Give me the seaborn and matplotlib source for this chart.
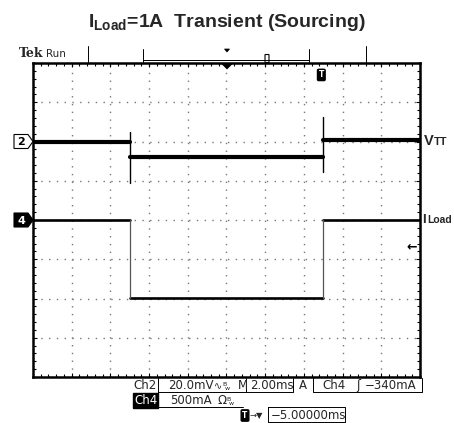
import numpy as np
import pandas as pd
import matplotlib
matplotlib.use('Agg')
import matplotlib.pyplot as plt
import matplotlib.transforms as mtransforms
from matplotlib.patches import Polygon, FancyBboxPatch
import seaborn as sns

# Scope settings
ms_per_div = 2.0        # horizontal, ms/div
ch2_mv_per_div = 20.0   # VTT, mV/div
ch4_a_per_div = 0.5     # ILoad, A/div
ch2_pos_div = 2.0       # ground marker of Ch2
ch4_pos_div = 0.0       # ground marker of Ch4
trig_level_a = -0.34
t_start, t_end = -15.0, 5.0

# Ch2 (VTT) - flat levels (ms, mV) and edge spikes
vtt_seg_start = [-15.0, -10.0, 0.0]
vtt_seg_end = [-10.0, 0.0, 5.0]
vtt_seg_mv = [0.0, -7.8, 0.6]
vtt_spike_t = [-10.0, 0.0]
vtt_spike_hi = [4.8, 12.4]
vtt_spike_lo = [-21.4, -15.6]

# Ch4 (ILoad) - flat levels (ms, A) and edges
iload_seg_start = [-15.0, -10.0, 0.0]
iload_seg_end = [-10.0, 0.0, 5.0]
iload_seg_a = [0.0, -0.99, 0.0]
iload_edge_t = [-10.0, 0.0]

sns.set_theme(style='white')
plt.rcParams['font.family'] = ['DejaVu Sans']
plt.rcParams['mathtext.fontset'] = 'custom'
plt.rcParams['mathtext.rm'] = 'Liberation Sans:bold'
plt.rcParams['mathtext.bf'] = 'Liberation Sans:bold'


def segments(starts, ends, vals, offset, per_div):
    rows = []
    for i, (a, b, v) in enumerate(zip(starts, ends, vals)):
        d = offset + v / per_div
        rows.append((i, a, d))
        rows.append((i, b, d))
    return pd.DataFrame(rows, columns=['seg', 't', 'div'])


def verticals(ts, lo, hi, offset, per_div):
    rows = []
    for i, (t, a, b) in enumerate(zip(ts, lo, hi)):
        rows.append((i, t, offset + a / per_div))
        rows.append((i, t, offset + b / per_div))
    return pd.DataFrame(rows, columns=['seg', 't', 'div'])


vtt_lv = segments(vtt_seg_start, vtt_seg_end, vtt_seg_mv, ch2_pos_div, ch2_mv_per_div)
vtt_sp = verticals(vtt_spike_t, vtt_spike_lo, vtt_spike_hi, ch2_pos_div, ch2_mv_per_div)
il_lv = segments(iload_seg_start, iload_seg_end, iload_seg_a, ch4_pos_div, ch4_a_per_div)
il_ed = verticals(iload_edge_t, [iload_seg_a[1]] * 2, [0.0] * 2, ch4_pos_div, ch4_a_per_div)

fig = plt.figure(figsize=(4.54, 4.23), dpi=100)
ax = fig.add_axes([33 / 454, 1 - 377 / 423, 387 / 454, 314 / 423])
ax.set_facecolor('white')

kw = dict(x='t', y='div', units='seg', estimator=None, sort=False, ax=ax, legend=False)
sns.lineplot(data=vtt_lv, lw=3.0, color='black', **kw)
sns.lineplot(data=vtt_sp, lw=1.0, color='black', **kw)
sns.lineplot(data=il_lv, lw=1.9, color='black', **kw)
sns.lineplot(data=il_ed, lw=0.9, color='#555555', **kw)

ax.set_xlim(t_start, t_end)
ax.set_ylim(-4, 4)
ax.set_xticks(np.arange(t_start, t_end + 0.01, ms_per_div))
ax.set_yticks(np.arange(-4, 4.01, 1))
ax.set_xticks(np.arange(t_start, t_end + 0.01, ms_per_div / 5), minor=True)
ax.set_yticks(np.arange(-4, 4.01, 0.2), minor=True)
ax.tick_params(which='both', direction='in', top=True, right=True, bottom=True, left=True,
               labelbottom=False, labelleft=False, color='black')
ax.tick_params(which='major', length=3, width=0.8)
ax.tick_params(which='minor', length=2.5, width=0.8)
ax.grid(True, which='major', color='#777777', lw=1.0, linestyle=(0, (1, 4.6)))
ax.set_xlabel('')
ax.set_ylabel('')
for s in ax.spines.values():
    s.set_linewidth(1.8)
    s.set_color('black')

# trigger level arrow and trigger position marker
yt = mtransforms.blended_transform_factory(ax.transAxes, ax.transData)
ax.text(0.993, ch4_pos_div + trig_level_a / ch4_a_per_div, '\u2190', transform=yt,
        ha='right', va='center', fontsize=9, fontweight='bold', color='black')
xt = mtransforms.blended_transform_factory(ax.transData, ax.transAxes)
ax.text(-0.1, 0.962, 'T', transform=xt, ha='center', va='center', fontsize=5.5,
        fontweight='bold', color='white',
        bbox=dict(boxstyle='round,pad=0.15', fc='black', ec='black'))

# overlay in pixel coordinates for scope screen annotations
ov = fig.add_axes([0, 0, 1, 1], zorder=5)
ov.set_xlim(0, 454)
ov.set_ylim(423, 0)
ov.axis('off')

ov.text(227, 27, r'$\mathbf{I_{Load}}$=1A  Transient (Sourcing)', ha='center', va='baseline',
        fontsize=14, fontweight='bold', family='Liberation Sans')

ov.text(19, 57, 'Tek', fontsize=9, fontweight='bold', family='DejaVu Serif', va='baseline')
ov.text(46, 57, 'Run', fontsize=7.5, va='baseline')
for x in (88, 366):
    ov.plot([x, x], [46, 62], color='black', lw=0.7)
ov.plot([143, 309], [60.5, 60.5], color='black', lw=0.7)
for x in (143, 309):
    ov.plot([x, x], [49, 62], color='black', lw=0.7)
ov.add_patch(Polygon([(224.5, 49), (229.5, 49), (227, 52)], closed=True, fc='black', ec='black', lw=0.5))
ov.add_patch(FancyBboxPatch((265.5, 55), 3, 7, boxstyle='round,pad=0.5', fc='white', ec='black', lw=0.8))
ov.add_patch(Polygon([(222, 64), (232, 64), (227, 69)], closed=True, fc='black', ec='black', lw=0.5))

# channel ground markers
for yy, lab, filled in ((141.5, '2', False), (220, '4', True)):
    ov.add_patch(Polygon([(14, yy - 7), (28, yy - 7), (33, yy), (28, yy + 7), (14, yy + 7)],
                         closed=True, fc='black' if filled else 'white', ec='black', lw=0.8))
    ov.text(21, yy + 0.5, lab, ha='center', va='center', fontsize=8, fontweight='bold',
            color='white' if filled else 'black')

# right-side trace labels
ov.text(424, 145, 'V', fontsize=10.5, fontweight='bold', family='Liberation Sans', va='baseline')
ov.text(434, 145, 'TT', fontsize=8, fontweight='bold', family='Liberation Sans', va='baseline')
ov.text(422, 223, 'I', fontsize=9.5, fontweight='bold', family='Liberation Sans', va='baseline')
ov.text(427, 223, 'Load', fontsize=7.5, fontweight='bold', family='Liberation Sans', va='baseline')

# readouts
fs = 8.5
ov.text(133, 389, 'Ch2', fontsize=fs, va='baseline')
ov.plot([158, 158, 246], [378, 392, 392], color='black', lw=0.7)
ov.text(168, 389, '20.0mV', fontsize=fs, va='baseline')
ov.text(214, 389, '\u223f', fontsize=7, va='baseline')
ov.text(222, 386, 'B', fontsize=4.5, va='baseline')
ov.text(225, 390, 'w', fontsize=4.5, va='baseline')
ov.text(238, 389, 'M', fontsize=fs, va='baseline')
ov.plot([246, 246, 293, 293], [378, 392, 392, 378], color='black', lw=0.7)
ov.text(250, 389, '2.00ms', fontsize=fs, va='baseline')
ov.text(299, 389, 'A', fontsize=fs, va='baseline')
ov.plot([313, 313, 422, 422], [378, 392, 392, 378], color='black', lw=0.7)
ov.text(322, 389, 'Ch4', fontsize=fs, va='baseline')
ov.text(356, 389, '\u0283', fontsize=fs, va='baseline')
ov.text(365, 389, '\u2212340mA', fontsize=fs, va='baseline')

ov.text(134, 404, 'Ch4', fontsize=fs, va='baseline', color='white',
        bbox=dict(boxstyle='square,pad=0.1', fc='black', ec='black'))
ov.plot([158, 158, 243], [392, 407, 407], color='black', lw=0.7)
ov.text(170, 404, '500mA', fontsize=fs, va='baseline')
ov.text(217, 404, '\u03a9', fontsize=fs, va='baseline')
ov.text(226, 401, 'B', fontsize=4.5, va='baseline')
ov.text(229, 405, 'w', fontsize=4.5, va='baseline')

ov.text(245, 418, 'T', fontsize=5.5, fontweight='bold', color='white', va='baseline', ha='center',
        bbox=dict(boxstyle='round,pad=0.15', fc='black', ec='black'))
ov.text(250, 418, '\u2192\u25bc', fontsize=6, va='baseline')
ov.plot([268, 268, 345, 345, 268], [407, 422, 422, 407, 407], color='black', lw=0.7)
ov.text(271, 419, '\u22125.00000ms', fontsize=fs, va='baseline')

fig.savefig('out.png', dpi=100)
